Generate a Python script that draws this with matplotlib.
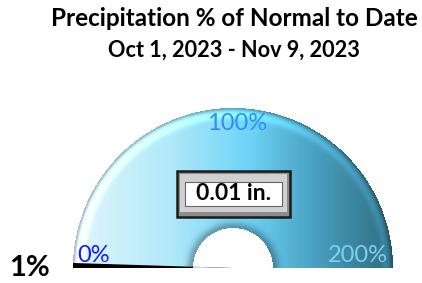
import numpy as np
import matplotlib.pyplot as plt
from matplotlib.colors import LinearSegmentedColormap
from matplotlib.patches import Wedge, Rectangle

# chart values
title = "Precipitation % of Normal to Date"
subtitle = "Oct 1, 2023 - Nov 9, 2023"
pct_value = 1
scale_max = 200
scale_labels = ["0%", "100%", "200%"]
scale_values = [0, 100, 200]
label_colors = ["#1a1aff", "#2b8cff", "#7fd0f5"]
rain_text = "0.01 in."

W, H = 422, 283
cx, cy = 233, 283 - 268
r_out, r_in = 160, 40

fig = plt.figure(figsize=(W / 100, H / 100), dpi=100)
ax = fig.add_axes([0, 0, 1, 1])
ax.set_xlim(0, W)
ax.set_ylim(0, H)
ax.axis("off")

# gauge body: horizontal gradient + bevel shading
cmap = LinearSegmentedColormap.from_list(
    "gauge",
    [(0.0, "#e2f5fc"), (0.3, "#b2e9f9"), (0.55, "#6ed4f7"),
     (0.75, "#4aa2c2"), (1.0, "#2e6b80")],
)
yy, xx = np.mgrid[0:H, 0:W]
py = H - yy - 0.5
px = xx + 0.5
rr = np.hypot(px - cx, py - cy)
tx = np.clip((px - (cx - r_out)) / (2 * r_out), 0, 1)
rgba = cmap(tx)
shade = np.ones_like(rr)
# highlight band near outer rim, dark edge at the rim
d_out = r_out - rr
shade += 0.18 * np.exp(-((d_out - 7) / 4) ** 2)
shade -= 0.25 * np.exp(-(d_out / 2.5) ** 2)
# shadow around inner hole
d_in = rr - r_in
shade -= 0.3 * np.exp(-(d_in / 6) ** 2)
rgba[..., :3] = np.clip(rgba[..., :3] * shade[..., None], 0, 1)
mask = (rr <= r_out) & (rr >= r_in) & (py >= cy)
rgba[..., 3] = mask.astype(float)
ax.imshow(rgba, extent=(0, W, 0, H), origin="upper", zorder=1)

# needle as a thin pie slice
ang = 180 - pct_value / scale_max * 180
ax.add_patch(Wedge((cx, cy), r_out, ang - 0.9, 180, color="black", lw=0, zorder=3))
ax.add_patch(Wedge((cx, cy), r_in, ang - 0.9, 180, color="#d8d8d8", lw=0, zorder=3))

fam = ["Lato", "DejaVu Sans"]
ax.text(234, H - 18, title, ha="center", va="center", fontsize=17.5,
        fontweight="bold", family=fam)
ax.text(234, H - 50, subtitle, ha="center", va="center", fontsize=15.6,
        fontweight="bold", family=fam)

# scale labels
label_pos = [(94, H - 255), (237, H - 123), (358, H - 255)]
for lab, (x, y), c in zip(scale_labels, label_pos, label_colors):
    ax.text(x, y, lab, ha="center", va="center", fontsize=17, color=c,
            family=fam, zorder=4)

ax.text(30, H - 268, f"{pct_value}%", ha="center", va="center", fontsize=21,
        fontweight="bold", family=fam)

# value box with bevel
bx0, by0, bw, bh = 177, H - 217, 113, 46
ax.add_patch(Rectangle((bx0, by0), bw, bh, fc="#8c8c8c", ec="#1a1a1a", lw=1.8, zorder=5))
ax.add_patch(Rectangle((bx0 + 3, by0 + 5), bw - 6, bh - 8, fc="#d0d0d0", ec="none", zorder=5))
ax.add_patch(Rectangle((bx0 + 8, by0 + 11), bw - 16, bh - 22, fc="white", ec="#666666",
                       lw=0.8, zorder=6))
ax.text(bx0 + bw / 2, by0 + bh / 2, rain_text, ha="center", va="center",
        fontsize=16.5, fontweight="bold", family=fam, zorder=7)

fig.savefig("out.png", dpi=100)
